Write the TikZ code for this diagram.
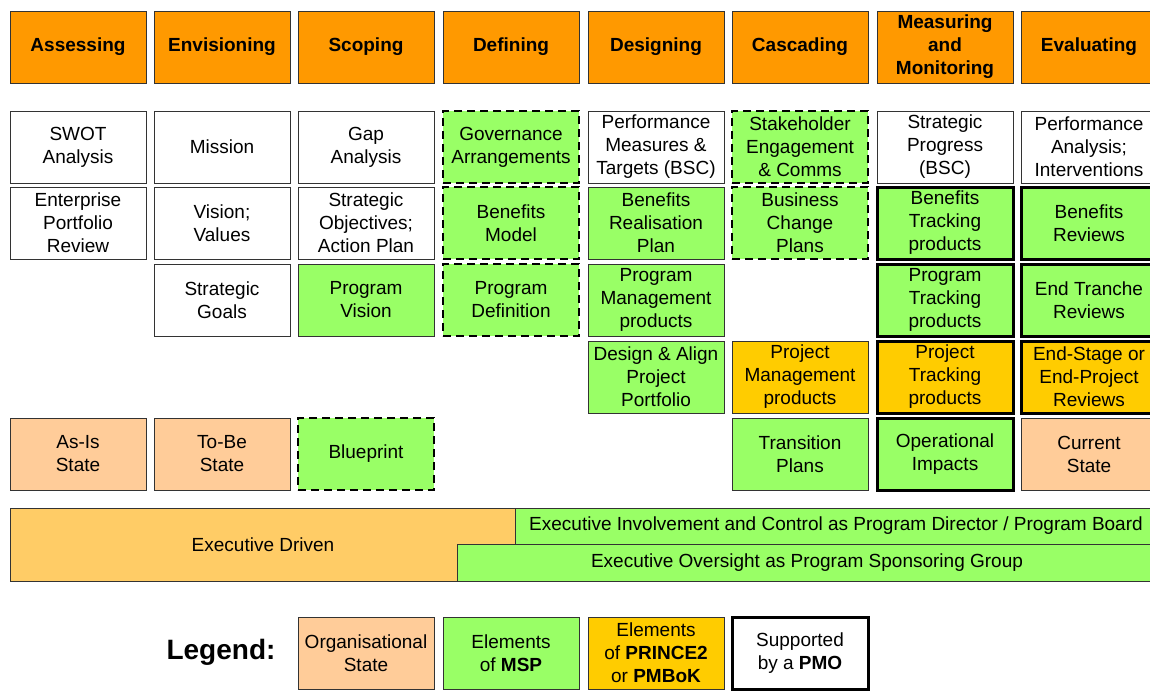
\documentclass[tikz,border=0pt]{standalone}
\usepackage{fontspec}
\setmainfont{Liberation Sans}
\definecolor{hdrorange}{HTML}{FF9900}
\definecolor{mspgreen}{HTML}{99FF66}
\definecolor{prgold}{HTML}{FFCC00}
\definecolor{peach}{HTML}{FFCC99}
\definecolor{execorange}{HTML}{FFCC66}
\definecolor{edge}{HTML}{333333}
\tikzset{
  base/.style={minimum width=136pt, minimum height=72pt, align=center, inner sep=0pt,
    font=\fontsize{19}{23}\selectfont},
  thin/.style={draw=edge, line width=0.9pt},
  plainbox/.style={base, thin, fill=white},
  hdrbox/.style={base, thin, fill=hdrorange, font=\fontsize{19}{23}\selectfont\bfseries},
  mspbox/.style={base, thin, fill=mspgreen},
  mspdash/.style={base, draw=black, line width=2.8pt, dash pattern=on 8pt off 5pt, fill=mspgreen},
  pmobox/.style={base, draw=black, line width=3pt},
  orgbox/.style={base, thin, fill=peach},
  prbox/.style={base, thin, fill=prgold},
  barbox/.style={thin, inner sep=0pt, align=center, font=\fontsize{19}{23}\selectfont},
}
\begin{document}
\begin{tikzpicture}[x=1pt,y=-1pt]
\useasboundingbox (0,0) rectangle (1150,691);
\clip (0,0) rectangle (1150,691);
\fill[white] (0,0) rectangle (1150,691);
% headers
\node[hdrbox] (h1) at (78,47) {Assessing};
\node[hdrbox] (h2) at (222,47) {Envisioning};
\node[hdrbox] (h3) at (366,47) {Scoping};
\node[hdrbox] (h4) at (511,47) {Defining};
\node[hdrbox] (h5) at (656,47) {Designing};
\node[hdrbox] (h6) at (800,47) {Cascading};
\node[hdrbox] (h7) at (945,47) {Measuring\\and\\Monitoring};
\node[hdrbox] (h8) at (1089,47) {Evaluating};
% row 1
\node[plainbox] (a1) at (78,147) {SWOT\\Analysis};
\node[plainbox] (b1) at (222,147) {Mission};
\node[plainbox] (c1) at (366,147) {Gap\\Analysis};
\node[mspdash] (d1) at (511,147) {Governance\\Arrangements};
\node[plainbox] (e1) at (656,147) {Performance\\Measures \&\\Targets (BSC)};
\node[mspdash] (f1) at (800,147) {Stakeholder\\Engagement\\\& Comms};
\node[plainbox] (g1) at (945,147) {Strategic\\Progress\\(BSC)};
\node[plainbox] (k1) at (1089,147) {Performance\\Analysis;\\Interventions};
% row 2
\node[plainbox] (a2) at (78,223) {Enterprise\\Portfolio\\Review};
\node[plainbox] (b2) at (222,223) {Vision;\\Values};
\node[plainbox] (c2) at (366,223) {Strategic\\Objectives;\\Action Plan};
\node[mspdash] (d2) at (511,223) {Benefits\\Model};
\node[mspbox] (e2) at (656,223) {Benefits\\Realisation\\Plan};
\node[mspdash] (f2) at (800,223) {Business\\Change\\Plans};
\node[pmobox, fill=mspgreen] (g2) at (945,223) {Benefits\\Tracking\\products};
\node[pmobox, fill=mspgreen] (k2) at (1089,223) {Benefits\\Reviews};
% row 3
\node[plainbox] (b3) at (222,300) {Strategic\\Goals};
\node[mspbox] (c3) at (366,300) {Program\\Vision};
\node[mspdash] (d3) at (511,300) {Program\\Definition};
\node[mspbox] (e3) at (656,300) {Program\\Management\\products};
\node[pmobox, fill=mspgreen] (g3) at (945,300) {Program\\Tracking\\products};
\node[pmobox, fill=mspgreen] (k3) at (1089,300) {End Tranche\\Reviews};
% row 4
\node[mspbox] (e4) at (656,377) {Design \& Align\\Project\\Portfolio};
\node[prbox] (f4) at (800,377) {Project\\Management\\products};
\node[pmobox, fill=prgold] (g4) at (945,377) {Project\\Tracking\\products};
\node[pmobox, fill=prgold] (k4) at (1089,377) {End-Stage or\\End-Project\\Reviews};
% row 5
\node[orgbox] (a5) at (78,454) {As-Is\\State};
\node[orgbox] (b5) at (222,454) {To-Be\\State};
\node[mspdash] (c5) at (366,454) {Blueprint};
\node[mspbox] (f5) at (800,454) {Transition\\Plans};
\node[pmobox, fill=mspgreen] (g5) at (945,454) {Operational\\Impacts};
\node[orgbox] (k5) at (1089,454) {Current\\State};
% bars
\node[barbox, fill=execorange, minimum width=506pt, minimum height=73pt] (exd) at (263,544.5) {Executive Driven};
\node[barbox, fill=mspgreen, minimum width=642pt, minimum height=36pt] (exi) at (836,526) {Executive Involvement and Control as Program Director / Program Board};
\node[barbox, fill=mspgreen, minimum width=700pt, minimum height=37pt] (exo) at (807,562.5) {Executive Oversight as Program Sponsoring Group};
% legend
\node[font=\fontsize{28}{32}\selectfont\bfseries, inner sep=0pt] (leg) at (221,652) {Legend:};
\node[orgbox] (l1) at (366,653) {Organisational\\State};
\node[mspbox] (l2) at (511,653) {Elements\\of \textbf{MSP}};
\node[prbox] (l3) at (656,653) {Elements\\of \textbf{PRINCE2}\\or \textbf{PMBoK}};
\node[pmobox, fill=white] (l4) at (800,653) {Supported\\by a \textbf{PMO}};
\end{tikzpicture}
\end{document}
